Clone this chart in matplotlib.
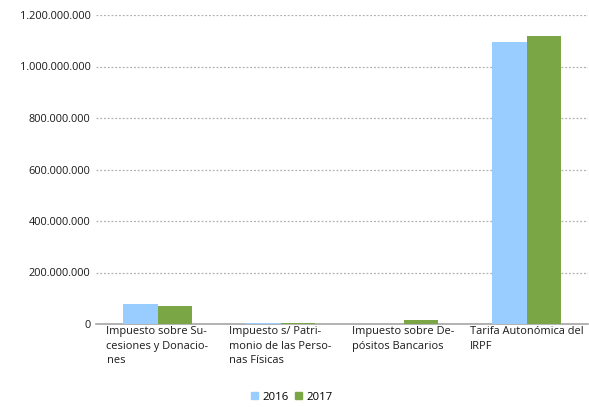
import matplotlib
matplotlib.use("Agg")
import matplotlib.pyplot as plt
import numpy as np
from matplotlib.ticker import FuncFormatter
from matplotlib.patches import Patch

categories = [
    "Impuesto sobre Su-\ncesiones y Donacio-\nnes",
    "Impuesto s/ Patri-\nmonio de las Perso-\nnas Físicas",
    "Impuesto sobre De-\npósitos Bancarios",
    "Tarifa Autonómica del\nIRPF",
]
series_names = ["2016", "2017"]
values_2016 = [78_000_000, 2_000_000, 0, 1_095_000_000]
values_2017 = [70_000_000, 3_000_000, 16_000_000, 1_118_000_000]
yticks = [0, 200_000_000, 400_000_000, 600_000_000, 800_000_000, 1_000_000_000, 1_200_000_000]

colors = ["#99CCFF", "#7BA646"]

plt.rcParams['font.family'] = ['Open Sans', 'DejaVu Sans']

fig = plt.figure(figsize=(5.89, 4.07), dpi=100)
ax = fig.add_axes([96/589, 1-324/407, 492/589, 309/407])

x = np.arange(len(categories))
w = 0.28
ax.bar(x - w/2, values_2016, w, color=colors[0], zorder=3)
ax.bar(x + w/2, values_2017, w, color=colors[1], zorder=3)

ax.set_xlim(-0.5, len(categories) - 0.5)
ax.set_ylim(0, 1_200_000_000)
ax.set_yticks(yticks)
ax.yaxis.set_major_formatter(FuncFormatter(lambda v, p: f"{int(v):,}".replace(",", ".")))
ax.tick_params(axis='y', length=0, pad=4, labelsize=7.9, labelcolor="#1a1a1a")
ax.tick_params(axis='x', length=0)
ax.set_xticks([])
for s in ["left", "right", "top"]:
    ax.spines[s].set_visible(False)
ax.spines["bottom"].set_color("#A6A6A6")
ax.spines["bottom"].set_linewidth(1.2)
ax.grid(axis='y', color="#B0B0B0", linestyle=(0, (1.5, 1.5)), linewidth=0.9, zorder=0)

for i, lab in enumerate(categories):
    ax.text(i, -9_000_000, lab, ha='center', va='top', multialignment='left',
            fontsize=7.9, color="#1a1a1a", linespacing=1.42, transform=ax.transData)

handles = [Patch(color=c) for c in colors]
fig.legend(handles, series_names, loc='center', bbox_to_anchor=(292/589, 1-397/407),
           ncol=2, frameon=False, fontsize=8.2, handlelength=0.6, handleheight=0.6,
           columnspacing=0.6, handletextpad=0.4)

fig.savefig("out.png", dpi=100)
